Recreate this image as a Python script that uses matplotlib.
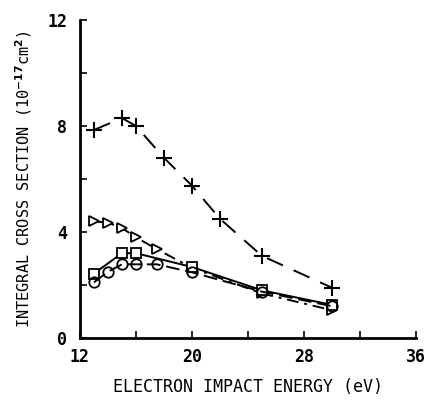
import matplotlib
matplotlib.use("Agg")
import matplotlib.pyplot as plt

# electron impact energies (eV) and integral cross sections (10^-17 cm^2)
plus_x = [13, 15, 16, 18, 20, 22, 25, 30]
plus_y = [7.85, 8.3, 8.0, 6.8, 5.75, 4.5, 3.1, 1.9]

tri_x = [13, 14, 15, 16, 17.5, 20, 25, 30]
tri_y = [4.4, 4.35, 4.15, 3.8, 3.35, 2.65, 1.68, 1.05]

sq_x = [13, 15, 16, 20, 25, 30]
sq_y = [2.43, 3.2, 3.2, 2.68, 1.8, 1.25]

circ_x = [13, 14, 15, 16, 17.5, 20, 25, 30]
circ_y = [2.1, 2.5, 2.78, 2.78, 2.78, 2.48, 1.75, 1.2]

x_ticks = [12, 20, 28, 36]
y_ticks = [0, 4, 8, 12]

plt.rcParams["font.family"] = "DejaVu Sans Mono"
plt.rcParams["font.weight"] = "bold"

fig = plt.figure(figsize=(4.3, 4.0), dpi=100)
ax = fig.add_axes([0.186, 0.155, 0.781, 0.795])

ax.plot(plus_x, plus_y, color="black", lw=1.4, linestyle=(0, (9, 6)),
        marker="+", markersize=11, markeredgewidth=1.5)
ax.plot(tri_x, tri_y, color="black", lw=1.4, linestyle=(0, (6, 3, 1.5, 3)),
        marker=">", markersize=6.5, markerfacecolor="white", markeredgewidth=1.3)
ax.plot(sq_x, sq_y, color="black", lw=1.4, linestyle="-",
        marker="s", markersize=7, markerfacecolor="white", markeredgewidth=1.3)
ax.plot(circ_x, circ_y, color="black", lw=1.4, linestyle=(0, (7, 3)),
        marker="o", markersize=7.5, markerfacecolor="none", markeredgewidth=1.3)

ax.set_xlim(12, 36)
ax.set_ylim(0, 12)
ax.set_xticks(x_ticks)
ax.set_yticks(y_ticks)
ax.set_xticks(range(12, 37, 4), minor=True)
ax.set_yticks(range(0, 13, 2), minor=True)
ax.tick_params(which="both", direction="in", width=1.2, length=5)
ax.tick_params(axis="x", which="major", labelsize=12, pad=7)
ax.tick_params(axis="y", which="major", labelsize=12, pad=9)

for side in ["top", "right"]:
    ax.spines[side].set_visible(False)
for side in ["left", "bottom"]:
    ax.spines[side].set_linewidth(2)

ax.set_xlabel("ELECTRON IMPACT ENERGY (eV)", fontsize=12, labelpad=9)
ax.set_ylabel("INTEGRAL CROSS SECTION (10$^{-17}$cm$^{2}$)", fontsize=11, labelpad=10)

fig.savefig("out.png", dpi=100)
